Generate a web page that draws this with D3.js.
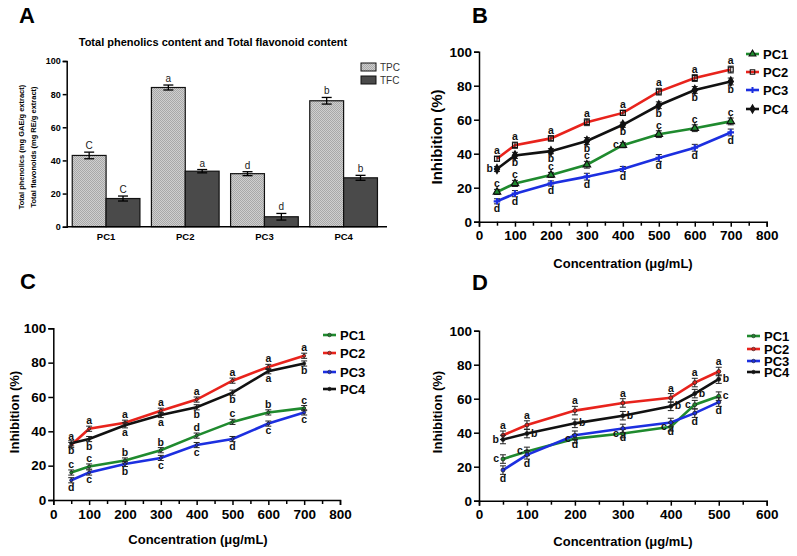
<!DOCTYPE html>
<html>
<head>
<meta charset="utf-8">
<script src="https://cdn.jsdelivr.net/npm/d3@7"></script>
<style>
body{margin:0;background:#fff}
text{font-family:"Liberation Sans",Arial,sans-serif}
</style>
</head>
<body>
<script>
// ---- panel A : bars ----
var groups = ["PC1", "PC2", "PC3", "PC4"];
var tpc = [43, 84, 32, 76];
var tpcErr = [2, 1.5, 1.2, 2];
var tfc = [17, 33.5, 6, 29.5];
var tfcErr = [1.5, 1, 2, 1.5];
var tpcLetters = ["C", "a", "d", "b"];
var tfcLetters = ["C", "a", "d", "b"];
var yTicksA = [0, 20, 40, 60, 80, 100];

// ---- line panels ----
var names = ["PC1", "PC2", "PC3", "PC4"];
var colors = ["#1f8a2e", "#e8231c", "#1c2fe0", "#111111"];

var concB = [50, 100, 200, 300, 400, 500, 600, 700];
var b_pc1 = [17.5, 22.5, 27.5, 33.5, 45, 51.5, 55, 59];
var b_pc2 = [37, 45, 49, 58.5, 64, 76.5, 84.5, 89.5];
var b_pc3 = [12, 16.5, 22.5, 26.5, 31, 37.5, 43.5, 52.5];
var b_pc4 = [31, 39, 41.5, 47.5, 57, 68.5, 77.5, 82.5];
var b_err = [1.5, 1.8, 1.5, 2, 1.5, 2, 2, 2];
var b_let = [["c","c","c","c","c","c","c","c"], ["a","a","a","a","a","a","a","a"],
             ["d","d","d","d","d","d","d","d"], ["b","b","b","b","b","b","b","b"]];
var b_pos = [["t","t","t","t","l","t","t","t"], "t", "b", ["l","b","b","b","b","b","b","b"]];

var concC = [50, 100, 200, 300, 400, 500, 600, 700];
var c_pc1 = [16, 19.5, 23, 29, 37.5, 45.5, 51, 53.5];
var c_pc2 = [32, 41.5, 45, 52, 58.5, 69.5, 77.5, 84];
var c_pc3 = [11.5, 16, 21, 24.5, 32, 35.5, 44.5, 51];
var c_pc4 = [33, 35.5, 43.5, 49.5, 54, 62.5, 75, 79.5];
var c_err = [1.5, 1.5, 1.5, 1.5, 1.5, 1.5, 1.5, 1.5];
var c_let = [["c","c","b","b","d","c","b","c"], ["a","a","a","a","a","a","a","a"],
             ["d","c","b","c","c","d","c","c"], ["b","b","a","a","b","b","a","b"]];
var c_pos = ["t", "t", "b", "b"];

var concD = [50, 100, 200, 300, 400, 450, 500];
var d_pc1 = [24.5, 29, 36.5, 39.5, 43.5, 56.5, 61.5];
var d_pc2 = [38.5, 44.5, 53, 57.5, 60.5, 69.5, 76];
var d_pc3 = [18, 27, 38.5, 42.5, 46, 51.5, 58];
var d_pc4 = [36, 39.5, 45.5, 50, 55.5, 63, 71.5];
var d_err = [2.5, 2.5, 2.5, 2.5, 2.5, 2.5, 2.5];
var d_let = [["c","c","c","c","c","c","c"], ["a","a","a","a","a","a","a"],
             ["d","d","d","d","d","d","d"], ["b","b","b","b","b","b","b"]];
var d_pos = [["l","l","l","l","l","l","r"], "t", "b", ["l","r","r","r","r","r","r"]];

var SANS = "'Liberation Sans', Arial, sans-serif";
var SERIF = "'Liberation Serif', 'Times New Roman', serif";

var svg = d3.select("body").append("svg")
    .attr("width", 797).attr("height", 556);

// pattern for TPC bars
var defs = svg.append("defs");
var pat = defs.append("pattern").attr("id", "dots")
    .attr("width", 2).attr("height", 2).attr("patternUnits", "userSpaceOnUse");
pat.append("rect").attr("width", 2).attr("height", 2).attr("fill", "#cfcfcf");
pat.append("rect").attr("width", 1).attr("height", 1).attr("fill", "#a8a8a8");
pat.append("rect").attr("x", 1).attr("y", 1).attr("width", 1).attr("height", 1).attr("fill", "#a8a8a8");

function panelLetter(t, x, y) {
    svg.append("text").attr("x", x).attr("y", y).attr("font-family", SANS)
        .attr("font-size", 22).attr("font-weight", "bold").text(t);
}

function styleAxis(g, size) {
    g.attr("font-family", SANS);
    g.selectAll("path,line").attr("stroke", "#000").attr("stroke-width", 1.5);
    g.selectAll("text").attr("font-size", size).attr("font-weight", "bold")
        .attr("font-family", SANS).attr("fill", "#000");
}

// ================= Panel A =================
panelLetter("A", 19, 23);
var xA = d3.scaleBand().domain(groups).range([66.7, 383]).paddingInner(0.145).paddingOuter(0.07);
var yA = d3.scaleLinear().domain([0, 100]).range([226.7, 61]);
var sub = d3.scaleBand().domain(["TPC", "TFC"]).range([0, xA.bandwidth()]);

svg.append("text").attr("x", 213).attr("y", 46).attr("text-anchor", "middle")
    .attr("font-size", 11).attr("font-weight", "bold")
    .text("Total phenolics content and Total flavonoid content");

var ylab = svg.append("text").attr("transform", "translate(24,147) rotate(-90)")
    .attr("text-anchor", "middle").attr("font-size", 7.5).attr("font-weight", "bold");
ylab.append("tspan").attr("x", 0).attr("dy", 0).text("Total phenolics (mg GAE/g extract)");
ylab.append("tspan").attr("x", 0).attr("dy", 12).text("Total flavonoids (mg RE/g extract)");

var barData = [];
groups.forEach(function(g, i) {
    barData.push({g: g, k: "TPC", v: tpc[i], e: tpcErr[i], l: tpcLetters[i]});
    barData.push({g: g, k: "TFC", v: tfc[i], e: tfcErr[i], l: tfcLetters[i]});
});

svg.selectAll(".bar").data(barData).enter().append("rect")
    .attr("x", function(d){ return xA(d.g) + sub(d.k); })
    .attr("y", function(d){ return yA(d.v); })
    .attr("width", sub.bandwidth())
    .attr("height", function(d){ return yA(0) - yA(d.v); })
    .attr("fill", function(d){ return d.k == "TPC" ? "url(#dots)" : "#4a4a4a"; })
    .attr("stroke", "#111").attr("stroke-width", 1.2);

var eb = svg.selectAll(".eb").data(barData).enter().append("g");
eb.each(function(d) {
    var cx = xA(d.g) + sub(d.k) + sub.bandwidth() / 2;
    var g = d3.select(this);
    g.append("line").attr("x1", cx).attr("x2", cx)
        .attr("y1", yA(d.v - d.e)).attr("y2", yA(d.v + d.e));
    g.append("line").attr("x1", cx - 5).attr("x2", cx + 5)
        .attr("y1", yA(d.v + d.e)).attr("y2", yA(d.v + d.e));
    g.append("line").attr("x1", cx - 5).attr("x2", cx + 5)
        .attr("y1", yA(d.v - d.e)).attr("y2", yA(d.v - d.e));
    g.selectAll("line").attr("stroke", "#000").attr("stroke-width", 1.3);
    g.append("text").attr("x", cx).attr("y", yA(d.v + d.e) - 3)
        .attr("text-anchor", "middle").attr("font-size", 10).attr("fill", "#222").text(d.l);
});

var axA = svg.append("g").attr("transform", "translate(66.7,0)")
    .call(d3.axisLeft(yA).tickValues(yTicksA).tickSize(4).tickPadding(2));
styleAxis(axA, 9);
var axAx = svg.append("g").attr("transform", "translate(0,226.7)")
    .call(d3.axisBottom(xA).tickSize(0).tickPadding(7));
styleAxis(axAx, 9.5);
axAx.select(".domain").attr("d", "M66.7,0H387");

// legend A
[["TPC", "url(#dots)", 63], ["TFC", "#4a4a4a", 76]].forEach(function(l) {
    svg.append("rect").attr("x", 361).attr("y", l[2]).attr("width", 15).attr("height", 8)
        .attr("fill", l[1]).attr("stroke", "#111").attr("stroke-width", 1);
    svg.append("text").attr("x", 380).attr("y", l[2] + 8).attr("font-size", 10)
        .attr("fill", "#333").text(l[0]);
});

// ================= line panels =================
var symbolsB = [d3.symbolTriangle, d3.symbolSquare, d3.symbolCross, d3.symbolDiamond];

function linePanel(p) {
    var x = d3.scaleLinear().domain([0, p.xmax]).range(p.xr);
    var y = d3.scaleLinear().domain([0, 100]).range(p.yr);

    // minor x ticks
    var minor = d3.range(50, p.xmax, 100);
    var gm = svg.append("g").attr("transform", "translate(0," + p.yr[0] + ")")
        .call(d3.axisBottom(x).tickValues(minor).tickSize(4).tickFormat(""));
    styleAxis(gm, 1);
    gm.select(".domain").remove();

    var gx = svg.append("g").attr("transform", "translate(0," + p.yr[0] + ")")
        .call(d3.axisBottom(x).tickValues(d3.range(0, p.xmax + 1, 100)).tickSize(5).tickPadding(4).tickFormat(d3.format("d")));
    styleAxis(gx, 13.5);
    var gy = svg.append("g").attr("transform", "translate(" + p.xr[0] + ",0)")
        .call(d3.axisLeft(y).tickValues([0, 20, 40, 60, 80, 100]).tickSize(5).tickPadding(2));
    styleAxis(gy, 13.5);

    svg.append("text").attr("transform", "translate(" + p.ylx + "," + p.yly + ") rotate(-90)")
        .attr("text-anchor", "middle").attr("font-size", p.ylfs).attr("font-weight", "bold")
        .text("Inhibition  (%)");
    svg.append("text").attr("x", p.xlx).attr("y", p.xly).attr("text-anchor", "middle")
        .attr("font-size", 13).attr("font-weight", "bold").text("Concentration (\u03BCg/mL)");

    var line = d3.line().x(function(d){ return x(d[0]); }).y(function(d){ return y(d[1]); });

    p.series.forEach(function(s, si) {
        var pts = p.conc.map(function(c, i){ return [c, s[i]]; });
        svg.append("path").datum(pts).attr("d", line).attr("fill", "none")
            .attr("stroke", colors[si]).attr("stroke-width", 2.6);
    });

    p.series.forEach(function(s, si) {
        p.conc.forEach(function(c, i) {
            var cx = x(c), v = s[i], e = p.err[i];
            var g = svg.append("g");
            g.append("line").attr("x1", cx).attr("x2", cx).attr("y1", y(v - e)).attr("y2", y(v + e));
            g.append("line").attr("x1", cx - 3).attr("x2", cx + 3).attr("y1", y(v + e)).attr("y2", y(v + e));
            g.append("line").attr("x1", cx - 3).attr("x2", cx + 3).attr("y1", y(v - e)).attr("y2", y(v - e));
            g.selectAll("line").attr("stroke", "#222").attr("stroke-width", 1);
            if (p.markers) {
                svg.append("path").attr("transform", "translate(" + cx + "," + y(v) + ")")
                    .attr("d", d3.symbol().type(symbolsB[si]).size(24)())
                    .attr("fill", si == 1 ? "none" : colors[si])
                    .attr("stroke", si == 2 ? "none" : "#111").attr("stroke-width", 1.2);
            } else {
                svg.append("circle").attr("cx", cx).attr("cy", y(v)).attr("r", p.dot)
                    .attr("fill", colors[si]).attr("stroke", "#222").attr("stroke-width", 0.8);
            }
            var pos = typeof p.pos[si] == "string" ? p.pos[si] : p.pos[si][i];
            var t = svg.append("text").attr("font-family", SERIF)
                .attr("font-weight", "bold").attr("font-size", 10.5).attr("fill", "#111")
                .text(p.letters[si][i]);
            if (pos == "t") t.attr("x", cx).attr("y", y(v + e) - 2).attr("text-anchor", "middle");
            else if (pos == "b") t.attr("x", cx).attr("y", y(v - e) + 8).attr("text-anchor", "middle");
            else if (pos == "l") t.attr("x", cx - 4).attr("y", y(v) + 3).attr("text-anchor", "end");
            else t.attr("x", cx + 4).attr("y", y(v) + 3).attr("text-anchor", "start");
        });
    });

    // legend
    names.forEach(function(n, i) {
        var ly = p.legY[i];
        svg.append("line").attr("x1", p.legX).attr("x2", p.legX + 13).attr("y1", ly).attr("y2", ly)
            .attr("stroke", colors[i]).attr("stroke-width", 2.6);
        if (p.markers) {
            svg.append("path").attr("transform", "translate(" + (p.legX + 6.5) + "," + ly + ")")
                .attr("d", d3.symbol().type(symbolsB[i]).size(20)())
                .attr("fill", i == 1 ? "none" : colors[i])
                .attr("stroke", i == 2 ? "none" : "#111").attr("stroke-width", 1.1);
        } else {
            svg.append("circle").attr("cx", p.legX + 6.5).attr("cy", ly).attr("r", 1.8)
                .attr("fill", colors[i]).attr("stroke", "#222").attr("stroke-width", 0.6);
        }
        svg.append("text").attr("x", p.legX + 17).attr("y", ly + 4.5)
            .attr("font-size", 13).attr("font-weight", "bold").text(n);
    });
}

panelLetter("B", 472, 23);
linePanel({xmax: 800, xr: [479, 766.7], yr: [221.7, 51.7], conc: concB,
    series: [b_pc1, b_pc2, b_pc3, b_pc4], err: b_err, letters: b_let, pos: b_pos,
    markers: true, ylx: 442, yly: 137, ylfs: 15, xlx: 623, xly: 268,
    legX: 746, legY: [54, 72, 90, 109]});

panelLetter("C", 20, 289);
linePanel({xmax: 800, xr: [53.3, 340], yr: [500, 328.3], conc: concC,
    series: [c_pc1, c_pc2, c_pc3, c_pc4], err: c_err, letters: c_let, pos: c_pos,
    markers: false, dot: 1.5, ylx: 19, yly: 412, ylfs: 13, xlx: 198, xly: 544,
    legX: 323, legY: [335, 353, 372, 389]});

panelLetter("D", 472, 290);
linePanel({xmax: 600, xr: [479, 766.7], yr: [500.7, 330.7], conc: concD,
    series: [d_pc1, d_pc2, d_pc3, d_pc4], err: d_err, letters: d_let, pos: d_pos,
    markers: false, dot: 2, ylx: 442, yly: 412, ylfs: 13, xlx: 623, xly: 546,
    legX: 747, legY: [336, 349, 361, 372]});
</script>
</body>
</html>
